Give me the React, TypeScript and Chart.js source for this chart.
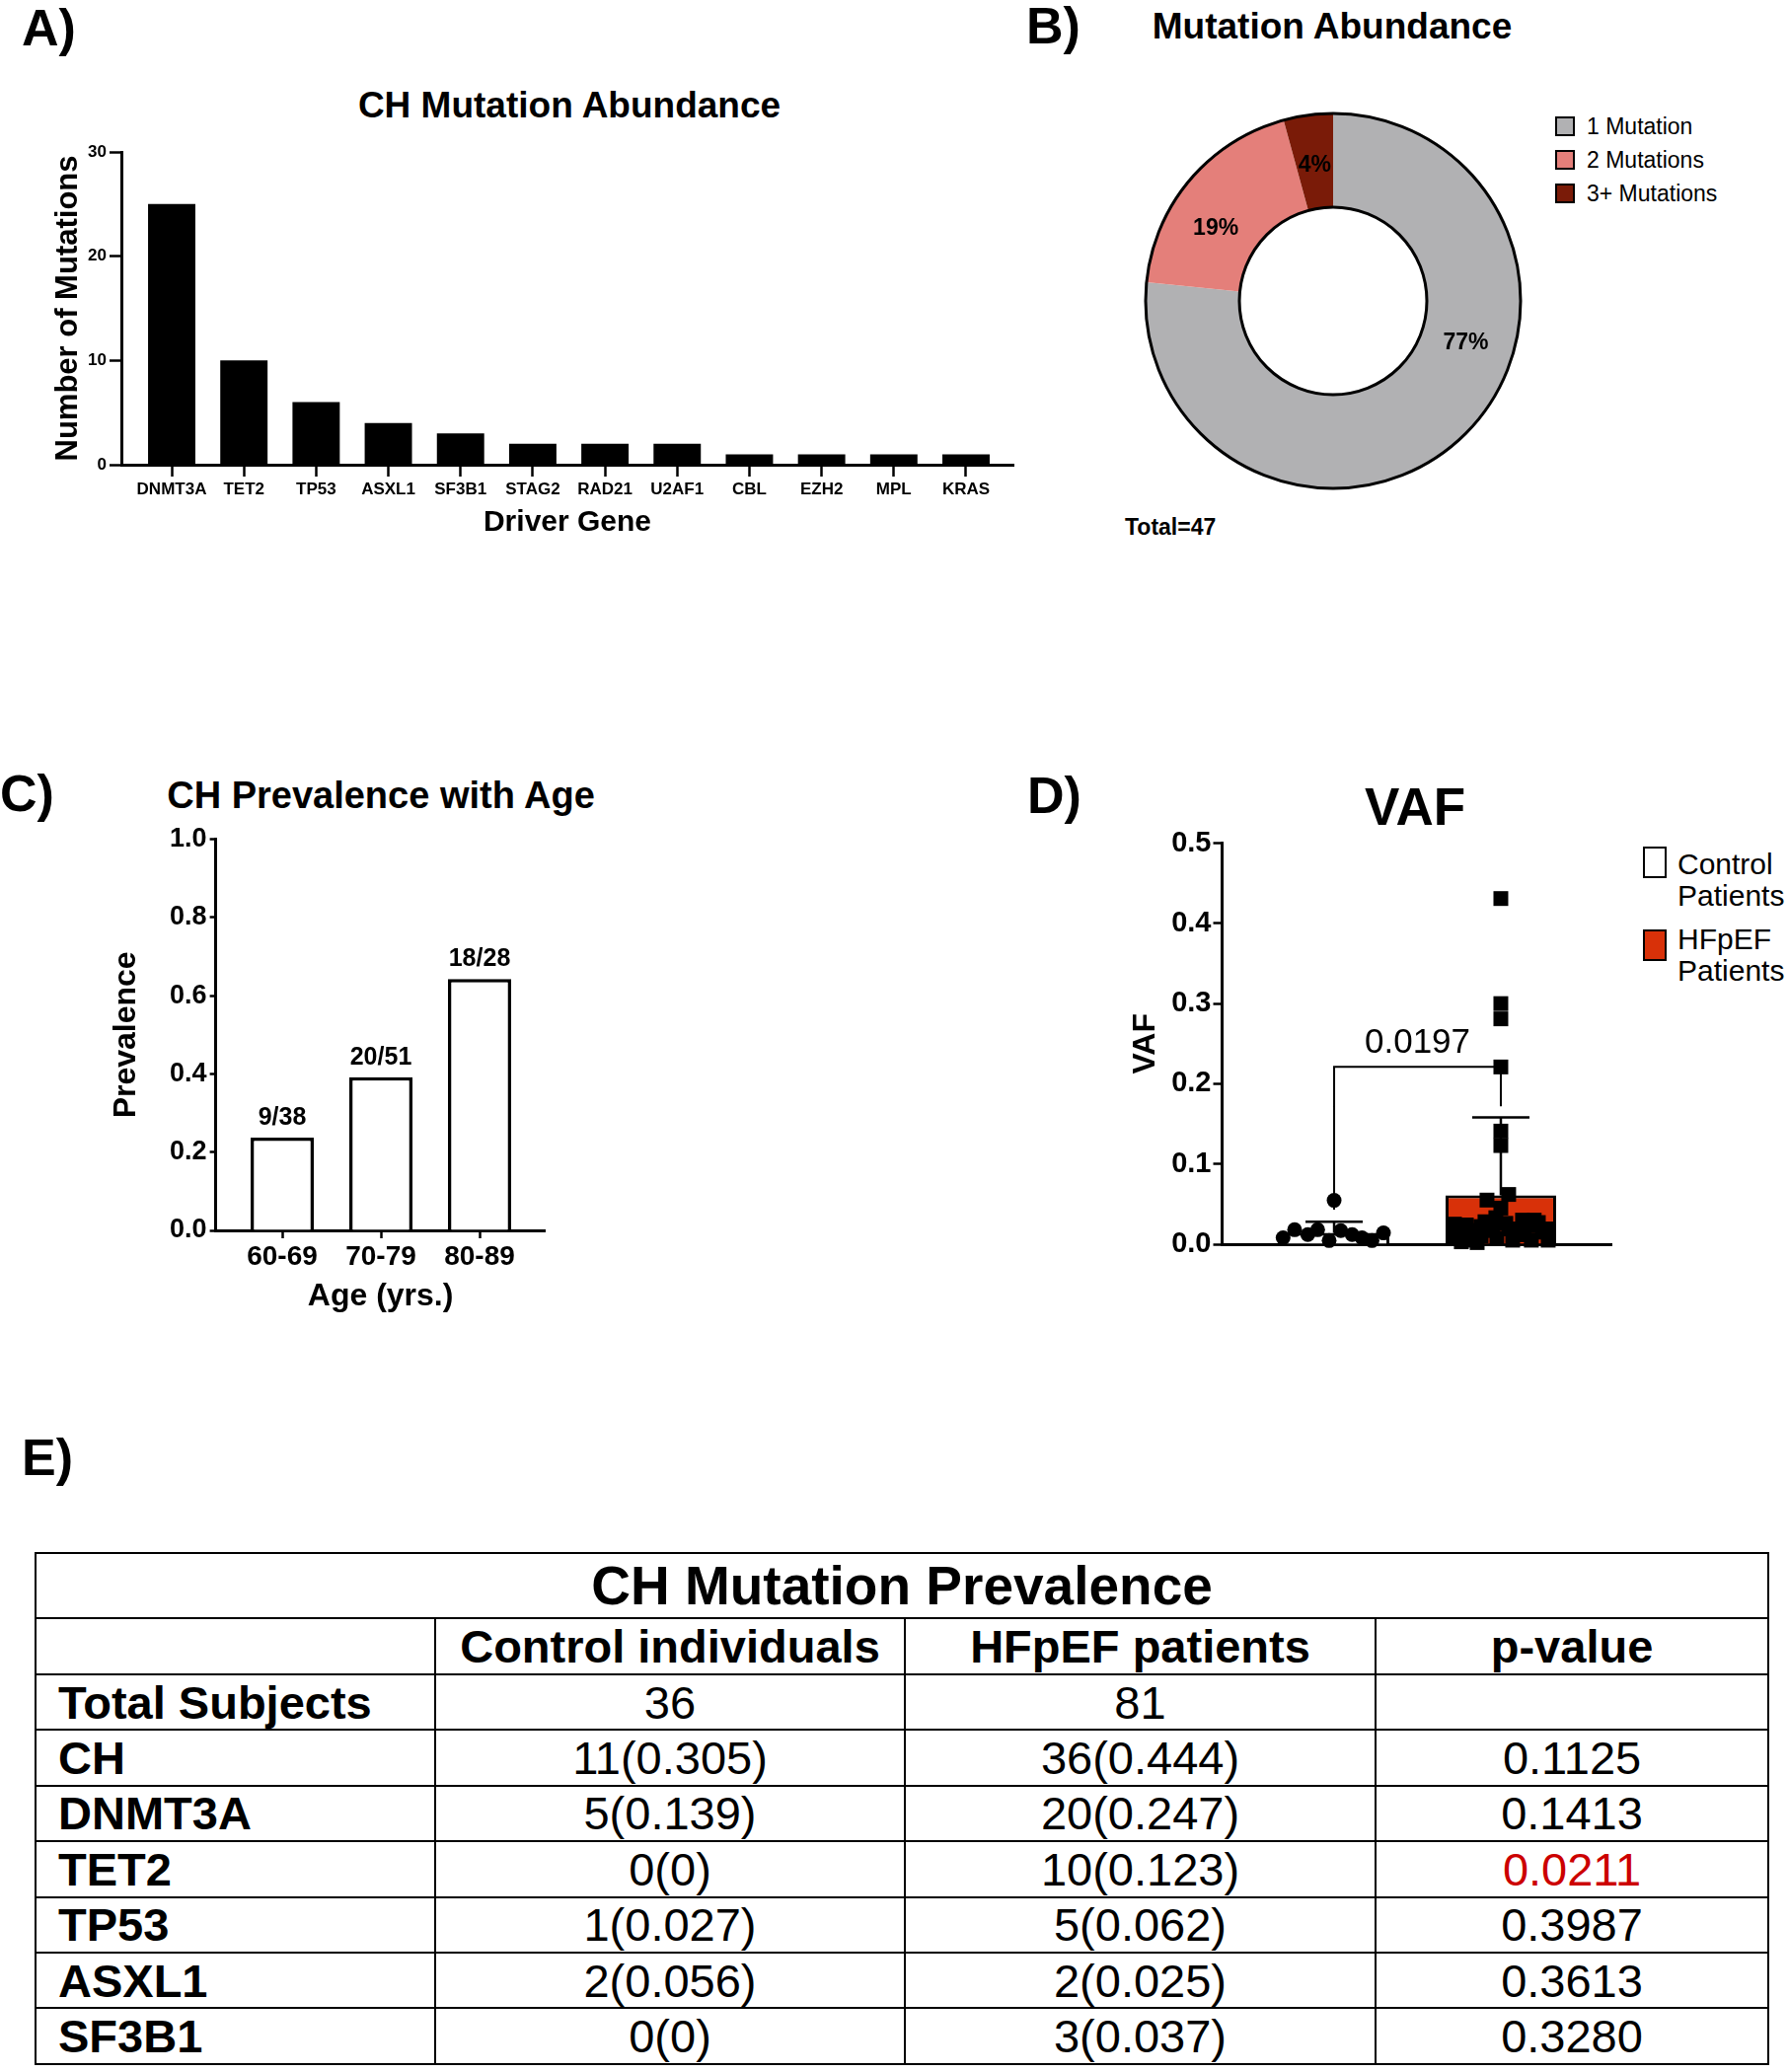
import React, { useEffect, useRef } from 'react';
import { Chart, registerables } from 'chart.js';

Chart.register(...registerables);

const FONT = "'Liberation Sans', Arial, Helvetica, sans-serif";
const BLACK = '#000000';

// ---------- Panel A data ----------
const driverGenes = ['DNMT3A', 'TET2', 'TP53', 'ASXL1', 'SF3B1', 'STAG2', 'RAD21', 'U2AF1', 'CBL', 'EZH2', 'MPL', 'KRAS'];
const mutationCounts = [25, 10, 6, 4, 3, 2, 2, 2, 1, 1, 1, 1];
const countTicks = [0, 10, 20, 30];

// ---------- Panel B data ----------
const mutationGroups = ['1 Mutation', '2 Mutations', '3+ Mutations'];
const mutationGroupCounts = [36, 9, 2];
const mutationGroupLabels = ['77%', '19%', '4%'];
const mutationGroupColors = ['#b1b1b3', '#e47f7a', '#7a1b08'];
const totalLabel = 'Total=47';

// ---------- Panel C data ----------
const ageGroups = ['60-69', '70-79', '80-89'];
const prevalence = [0.237, 0.392, 0.643];
const prevalenceFractions = ['9/38', '20/51', '18/28'];
const prevalenceTicks = [0, 0.2, 0.4, 0.6, 0.8, 1.0];

// ---------- Panel D data ----------
const vafGroups = ['Control Patients', 'HFpEF Patients'];
const vafColors = ['#ffffff', '#d83109'];
const vafMeans = [0.014, 0.061];
const vafUpper = [0.028, 0.158];
const controlVAF = [0.008, 0.018, 0.012, 0.018, 0.0045, 0.0546, 0.017, 0.012, 0.008, 0.0045, 0.014];
const controlJitter = [-0.306, -0.237, -0.158, -0.099, -0.03, 0, 0.04, 0.108, 0.167, 0.227, 0.296];
const hfpefVAF = [0.431, 0.3, 0.281, 0.221, 0.141, 0.123, 0.062, 0.055, 0.045, 0.033, 0.026, 0.025, 0.024, 0.008, 0.005, 0.01, 0.017, 0.019, 0.012, 0.023, 0.027, 0.019, 0.005, 0.005, 0.005, 0.007, 0.017, 0.003, 0.002, 0.03, 0.028, 0.02, 0.015, 0.022, 0.012, 0.03];
const hfpefJitter = [0, 0, 0, 0, 0, 0, 0.047, -0.083, 0, -0.03, 0.03, -0.278, -0.207, -0.284, -0.189, -0.118, -0.047, 0.047, 0.107, 0.166, 0.225, 0.272, 0.284, 0.183, 0.071, -0.024, -0.166, -0.237, -0.142, 0.13, -0.095, -0.25, 0.25, -0.12, 0.14, 0.2];
const vafTicks = [0, 0.1, 0.2, 0.3, 0.4, 0.5];
const vafPValue = '0.0197';
const bracketLevel = 0.221;
const bracketLegEnds = [0.043, 0.172];

// ---------- Panel E data ----------
const tableTitle = 'CH Mutation Prevalence';
const tableHeaders = ['', 'Control individuals', 'HFpEF patients', 'p-value'];
const tableRows = ['Total Subjects', 'CH', 'DNMT3A', 'TET2', 'TP53', 'ASXL1', 'SF3B1'];
const controlCol = ['36', '11(0.305)', '5(0.139)', '0(0)', '1(0.027)', '2(0.056)', '0(0)'];
const hfpefCol = ['81', '36(0.444)', '20(0.247)', '10(0.123)', '5(0.062)', '2(0.025)', '3(0.037)'];
const pValues = ['', '0.1125', '0.1413', '0.0211', '0.3987', '0.3613', '0.3280'];
const significance = 0.05;

// ---------- helpers ----------
const axisFont = (size: number, bold = true) => ({ family: FONT, size, weight: bold ? 'bold' : 'normal', lineHeight: 1.2 });

const baseOptions = () => ({
  responsive: false,
  animation: false,
  devicePixelRatio: 1,
  events: [],
  plugins: { legend: { display: false }, tooltip: { enabled: false }, title: { display: false } },
});

const tickGrid = (len: number) => ({ display: true, offset: false, drawOnChartArea: false, drawTicks: true, tickLength: len, tickWidth: 2.5, tickColor: BLACK });
const axisBorder = { display: true, color: BLACK, width: 3 };

function makeAbundance(): any {
  return {
    type: 'bar',
    data: {
      datasets: [{
        data: driverGenes.map((_, i) => ({ x: i, y: mutationCounts[i] })),
        backgroundColor: BLACK, borderWidth: 0, barPercentage: 0.655, categoryPercentage: 1,
      }],
    },
    options: {
      ...baseOptions(),
      layout: { padding: { top: 34, right: 23, bottom: 0, left: 0 }, autoPadding: false },
      scales: {
        x: {
          type: 'linear', min: -0.697, max: 11.656, offset: false,
          afterBuildTicks: (s: any) => { s.ticks = driverGenes.map((_, i) => ({ value: i })); },
          afterFit: (s: any) => { s.height = 79; },
          ticks: { callback: (v: any) => driverGenes[Math.round(v)] ?? '', font: axisFont(17), color: BLACK, padding: 3, maxRotation: 0, minRotation: 0, autoSkip: false },
          grid: tickGrid(12),
          border: axisBorder,
          title: { display: true, text: 'Driver Gene', font: axisFont(30), color: BLACK, padding: { top: 0, bottom: 2 } },
        },
        y: {
          type: 'linear', min: 0, max: 30,
          afterBuildTicks: (s: any) => { s.ticks = countTicks.map((v) => ({ value: v })); },
          afterFit: (s: any) => { s.width = 123; },
          ticks: { font: axisFont(17), color: BLACK, padding: 3 },
          grid: tickGrid(12),
          border: axisBorder,
          title: { display: true, text: 'Number of Mutations', font: axisFont(31), color: BLACK, padding: { top: 51, bottom: 0 } },
        },
      },
    },
  };
}

const labelAngleShift = [-31, -8, 0];
const donutDecor = {
  id: 'donutDecor',
  afterDatasetsDraw(chart: any) {
    const ctx = chart.ctx;
    const arcs = chart.getDatasetMeta(0).data;
    if (!arcs.length) return;
    const { x, y, outerRadius, innerRadius } = arcs[0];
    ctx.save();
    ctx.strokeStyle = BLACK;
    ctx.lineWidth = 3;
    ctx.beginPath(); ctx.arc(x, y, outerRadius, 0, Math.PI * 2); ctx.stroke();
    ctx.beginPath(); ctx.arc(x, y, innerRadius, 0, Math.PI * 2); ctx.stroke();
    ctx.fillStyle = BLACK;
    ctx.font = `bold 23px ${FONT}`;
    ctx.textAlign = 'center';
    ctx.textBaseline = 'middle';
    arcs.forEach((a: any, i: number) => {
      const mid = (a.startAngle + a.endAngle) / 2 + (labelAngleShift[i] * Math.PI) / 180;
      const r = (a.outerRadius + a.innerRadius) / 2 - 2;
      ctx.fillText(mutationGroupLabels[i], a.x + Math.cos(mid) * r, a.y + Math.sin(mid) * r + 2);
    });
    ctx.restore();
  },
};

function makeDonut(): any {
  return {
    type: 'doughnut',
    data: {
      labels: mutationGroups,
      datasets: [{ data: mutationGroupCounts, backgroundColor: mutationGroupColors, borderWidth: 0 }],
    },
    options: {
      ...baseOptions(),
      radius: 190,
      cutout: '50%',
      layout: { padding: 0 },
    },
    plugins: [donutDecor],
  };
}

const fractionLabels = {
  id: 'fractionLabels',
  afterDatasetsDraw(chart: any) {
    const ctx = chart.ctx;
    const bars = chart.getDatasetMeta(0).data;
    ctx.save();
    ctx.fillStyle = BLACK;
    ctx.font = `bold 25px ${FONT}`;
    ctx.textAlign = 'center';
    ctx.textBaseline = 'alphabetic';
    bars.forEach((b: any, i: number) => ctx.fillText(prevalenceFractions[i], b.x, b.y - 13));
    ctx.restore();
  },
};

function makePrevalence(): any {
  return {
    type: 'bar',
    data: {
      datasets: [{
        data: ageGroups.map((_, i) => ({ x: i, y: prevalence[i] })),
        backgroundColor: '#ffffff', borderColor: BLACK, borderWidth: 3.5, barPercentage: 0.64, categoryPercentage: 1,
      }],
    },
    options: {
      ...baseOptions(),
      layout: { padding: { top: 30.7, right: 27.4, bottom: 0, left: 0 }, autoPadding: false },
      scales: {
        x: {
          type: 'linear', min: -0.674, max: 2.666, offset: false,
          afterBuildTicks: (s: any) => { s.ticks = ageGroups.map((_, i) => ({ value: i })); },
          afterFit: (s: any) => { s.height = 93; },
          ticks: { callback: (v: any) => ageGroups[Math.round(v)] ?? '', font: axisFont(28), color: BLACK, padding: 2, maxRotation: 0, minRotation: 0, autoSkip: false },
          grid: tickGrid(8),
          border: axisBorder,
          title: { display: true, text: 'Age (yrs.)', font: axisFont(32), color: BLACK, padding: { top: 0, bottom: 7 } },
        },
        y: {
          type: 'linear', min: 0, max: 1,
          afterBuildTicks: (s: any) => { s.ticks = prevalenceTicks.map((v) => ({ value: v })); },
          afterFit: (s: any) => { s.width = 158.6; },
          ticks: { callback: (v: any) => Number(v).toFixed(1), font: axisFont(27), color: BLACK, padding: 3 },
          grid: tickGrid(6),
          border: axisBorder,
          title: { display: true, text: 'Prevalence', font: axisFont(32), color: BLACK, padding: { top: 48.8, bottom: 0 } },
        },
      },
    },
    plugins: [fractionLabels],
  };
}

const vafDecor = {
  id: 'vafDecor',
  afterDatasetsDraw(chart: any) {
    const ctx = chart.ctx;
    const xs = chart.scales.x;
    const ys = chart.scales.y;
    ctx.save();
    ctx.strokeStyle = BLACK;
    ctx.lineCap = 'butt';
    // error bars (mean to mean + SD)
    ctx.lineWidth = 2.5;
    vafMeans.forEach((m, i) => {
      const px = xs.getPixelForValue(i);
      const y0 = ys.getPixelForValue(m);
      const y1 = ys.getPixelForValue(vafUpper[i]);
      ctx.beginPath();
      ctx.moveTo(px, y0); ctx.lineTo(px, y1);
      ctx.moveTo(px - 29, y1); ctx.lineTo(px + 29, y1);
      ctx.stroke();
    });
    // significance bracket
    ctx.lineWidth = 2;
    const yb = ys.getPixelForValue(bracketLevel);
    const x0 = xs.getPixelForValue(0);
    const x1 = xs.getPixelForValue(1);
    ctx.beginPath();
    ctx.moveTo(x0, ys.getPixelForValue(bracketLegEnds[0]));
    ctx.lineTo(x0, yb);
    ctx.lineTo(x1, yb);
    ctx.lineTo(x1, ys.getPixelForValue(bracketLegEnds[1]));
    ctx.stroke();
    ctx.fillStyle = BLACK;
    ctx.font = `35px ${FONT}`;
    ctx.textAlign = 'center';
    ctx.textBaseline = 'alphabetic';
    ctx.fillText(vafPValue, (x0 + x1) / 2, yb - 14);
    ctx.restore();
  },
};

function makeVAF(): any {
  return {
    type: 'bar',
    data: {
      datasets: [
        {
          type: 'bar', order: 2,
          data: vafMeans.map((m, i) => ({ x: i, y: m })),
          backgroundColor: vafColors, borderColor: BLACK, borderWidth: 3, barPercentage: 0.663, categoryPercentage: 1,
        },
        {
          type: 'scatter', order: 1, clip: false,
          data: controlVAF.map((v, i) => ({ x: controlJitter[i], y: v })),
          pointStyle: 'circle', pointRadius: 7.5, backgroundColor: BLACK, borderWidth: 0, showLine: false,
        },
        {
          type: 'scatter', order: 1, clip: false,
          data: hfpefVAF.map((v, i) => ({ x: 1 + hfpefJitter[i], y: v })),
          pointStyle: 'rect', pointRadius: 10.6, backgroundColor: BLACK, borderWidth: 0, showLine: false,
        },
      ],
    },
    options: {
      ...baseOptions(),
      layout: { padding: { top: 24.6, right: 26.5, bottom: 0, left: 0 }, autoPadding: false },
      scales: {
        x: {
          type: 'linear', min: -0.672, max: 1.666, offset: false,
          afterBuildTicks: (s: any) => { s.ticks = vafMeans.map((_, i) => ({ value: i })); },
          afterFit: (s: any) => { s.height = 39; },
          ticks: { display: false },
          grid: { display: true, offset: false, drawOnChartArea: false, drawTicks: false },
          border: axisBorder,
        },
        y: {
          type: 'linear', min: 0, max: 0.5,
          afterBuildTicks: (s: any) => { s.ticks = vafTicks.map((v) => ({ value: v })); },
          afterFit: (s: any) => { s.width = 138.5; },
          ticks: { callback: (v: any) => Number(v).toFixed(1), font: axisFont(29), color: BLACK, padding: 2 },
          grid: tickGrid(9),
          border: axisBorder,
          title: { display: true, text: 'VAF', font: axisFont(32), color: BLACK, padding: { top: 41.8, bottom: 0 } },
        },
      },
    },
    plugins: [vafDecor],
  };
}

// ---------- components ----------
function ChartCanvas({ left, top, width, height, make }: { left: number; top: number; width: number; height: number; make: () => any }) {
  const ref = useRef<HTMLCanvasElement | null>(null);
  useEffect(() => {
    if (!ref.current) return;
    const chart = new Chart(ref.current, make());
    return () => chart.destroy();
  }, []);
  return <canvas ref={ref} width={width} height={height} style={{ position: 'absolute', left, top, width, height }} />;
}

function Label({ text, x, y, size, bold = true, center = false, color = BLACK }: { text: string; x: number; y: number; size: number; bold?: boolean; center?: boolean; color?: string }) {
  const style: React.CSSProperties = {
    position: 'absolute',
    left: x,
    top: y - size * 0.49,
    fontSize: size,
    lineHeight: `${size}px`,
    fontWeight: bold ? 'bold' : 'normal',
    fontFamily: FONT,
    color,
    whiteSpace: 'nowrap',
  };
  if (center) style.transform = 'translateX(-50%)';
  return <div style={style}>{text}</div>;
}

const cellBase: React.CSSProperties = {
  border: '2.5px solid #000',
  padding: 0,
  lineHeight: 1,
  verticalAlign: 'middle',
  whiteSpace: 'nowrap',
  overflow: 'hidden',
};

function PrevalenceTable() {
  const colWidths = [405, 476, 477, 398];
  const rowH = 56.4;
  return (
    <table style={{ position: 'absolute', left: 35, top: 1573, width: 1757, height: 519, borderCollapse: 'collapse', tableLayout: 'fixed', fontFamily: FONT, color: BLACK }}>
      <colgroup>
        {colWidths.map((w, i) => <col key={i} style={{ width: w }} />)}
      </colgroup>
      <tbody>
        <tr style={{ height: 66 }}>
          <td colSpan={4} style={{ ...cellBase, fontSize: 55, fontWeight: 'bold', textAlign: 'center' }}>{tableTitle}</td>
        </tr>
        <tr style={{ height: 57 }}>
          {tableHeaders.map((h, i) => (
            <td key={i} style={{ ...cellBase, fontSize: 47, fontWeight: 'bold', textAlign: 'center' }}>{h}</td>
          ))}
        </tr>
        {tableRows.map((r, i) => {
          const p = pValues[i];
          const red = p !== '' && parseFloat(p) < significance;
          return (
            <tr key={r} style={{ height: rowH }}>
              <td style={{ ...cellBase, fontSize: 47, fontWeight: 'bold', textAlign: 'left', paddingLeft: 22 }}>{r}</td>
              <td style={{ ...cellBase, fontSize: 47, textAlign: 'center' }}>{controlCol[i]}</td>
              <td style={{ ...cellBase, fontSize: 47, textAlign: 'center' }}>{hfpefCol[i]}</td>
              <td style={{ ...cellBase, fontSize: 47, textAlign: 'center', color: red ? '#cc0000' : BLACK }}>{p}</td>
            </tr>
          );
        })}
      </tbody>
    </table>
  );
}

export default function App() {
  return (
    <div style={{ position: 'absolute', left: 0, top: 0, width: 1812, height: 2100, background: '#ffffff', overflow: 'hidden', fontFamily: FONT }}>
      {/* panel letters */}
      <Label text="A)" x={22} y={27} size={52} />
      <Label text="B)" x={1040} y={25} size={52} />
      <Label text="C)" x={0} y={803} size={52} />
      <Label text="D)" x={1041} y={805} size={52} />
      <Label text="E)" x={22} y={1476} size={52} />

      {/* Panel A */}
      <Label text="CH Mutation Abundance" x={577} y={106} size={37} center />
      <ChartCanvas left={0} top={120} width={1050} height={430} make={makeAbundance} />

      {/* Panel B */}
      <Label text="Mutation Abundance" x={1350} y={26} size={37} center />
      <ChartCanvas left={1151} top={105} width={400} height={400} make={makeDonut} />
      {mutationGroups.map((g, i) => (
        <React.Fragment key={g}>
          <div style={{ position: 'absolute', left: 1576, top: 118 + i * 34, width: 20, height: 20, boxSizing: 'border-box', border: '2.5px solid #000', background: mutationGroupColors[i] }} />
          <Label text={g} x={1608} y={128 + i * 34} size={23} bold={false} />
        </React.Fragment>
      ))}
      <Label text={totalLabel} x={1140} y={534} size={23} />

      {/* Panel C */}
      <Label text="CH Prevalence with Age" x={386} y={806} size={38} center />
      <ChartCanvas left={60} top={820} width={520} height={520} make={makePrevalence} />

      {/* Panel D */}
      <Label text="VAF" x={1434} y={817} size={53} center />
      <ChartCanvas left={1100} top={830} width={560} height={470} make={makeVAF} />
      {vafGroups.map((g, i) => (
        <React.Fragment key={g}>
          <div style={{ position: 'absolute', left: 1665, top: 858 + i * 84, width: 24, height: 32, boxSizing: 'border-box', border: '2.7px solid #000', background: vafColors[i] }} />
          {g.split(' ').map((w, j) => (
            <Label key={w} text={w} x={1700} y={876 + i * 76 + j * 32} size={30} bold={false} />
          ))}
        </React.Fragment>
      ))}

      {/* Panel E */}
      <PrevalenceTable />
    </div>
  );
}
